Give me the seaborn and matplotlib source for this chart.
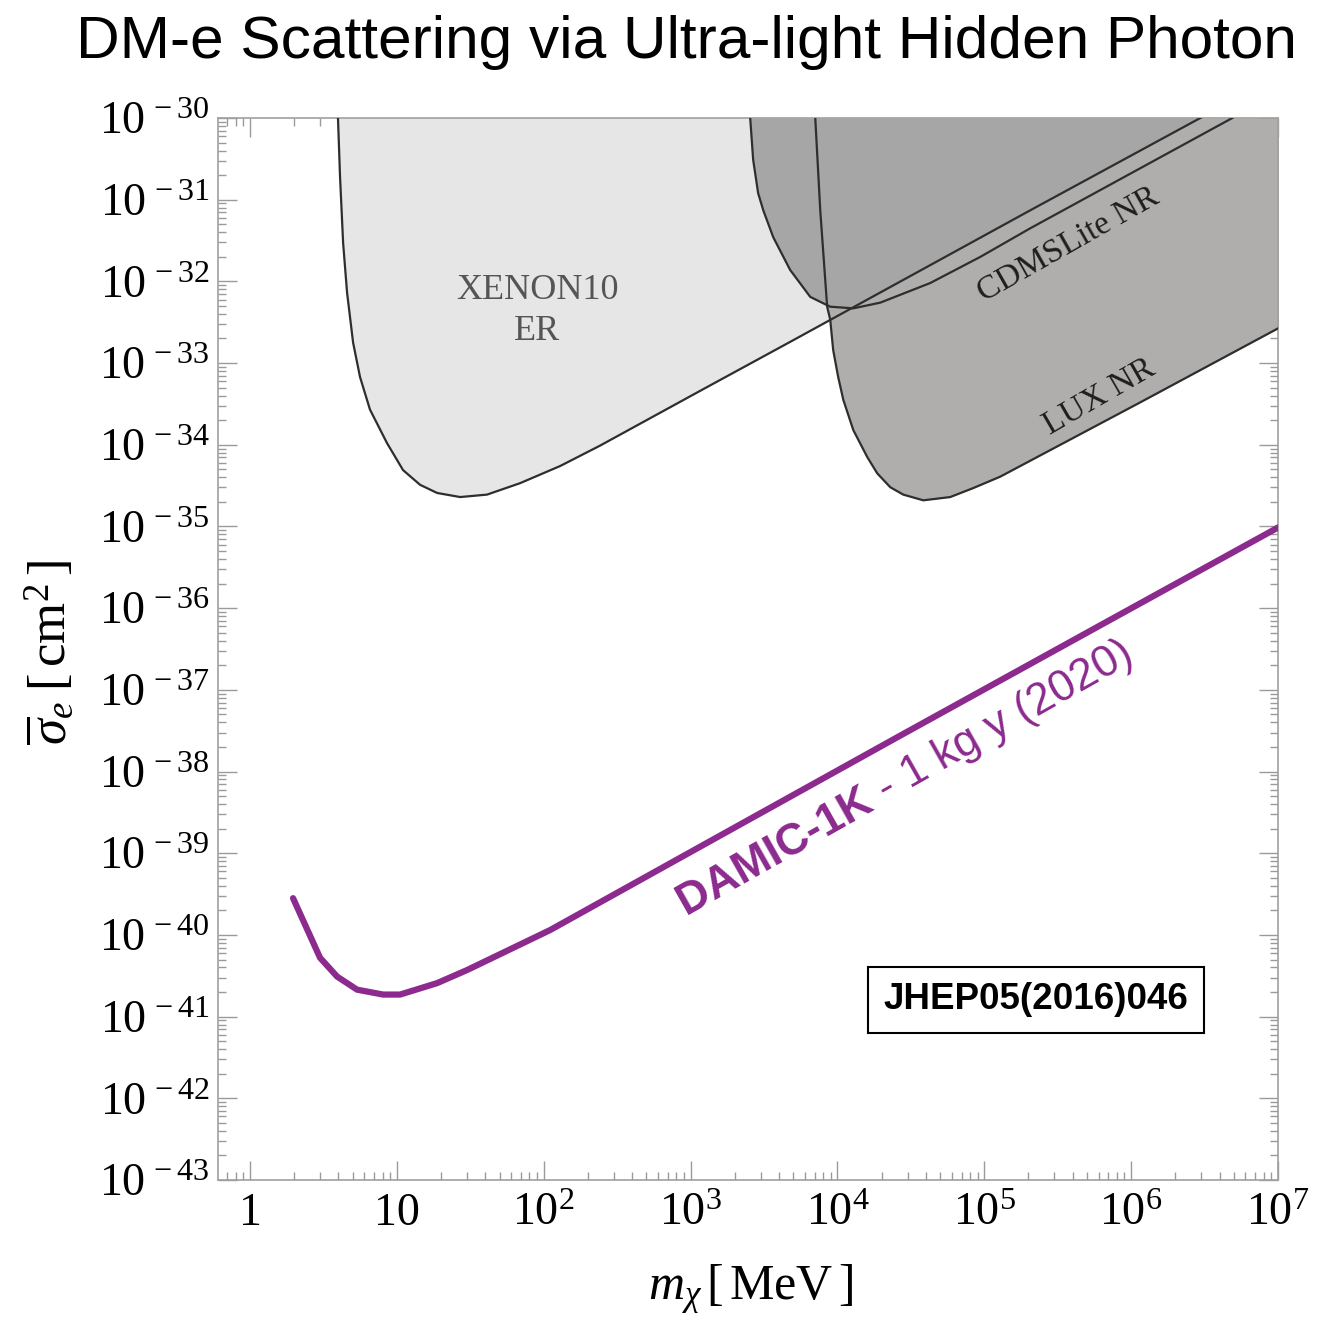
import matplotlib
matplotlib.use("Agg")
import matplotlib.pyplot as plt
import numpy as np
import seaborn as sns
from matplotlib.ticker import LogLocator, NullFormatter

# values, as log10(m / MeV) and log10(sigma / cm^2)
xenon_logm = [0.597, 0.599, 0.613, 0.634, 0.661, 0.702, 0.749, 0.817, 0.933, 1.042, 1.158, 1.274, 1.431,
              1.614, 1.839, 2.112, 2.384, 3.065, 3.699, 5.313, 6.471, 7.02]
xenon_logs = [-29.0, -30.0, -30.72, -31.53, -32.14, -32.75, -33.17, -33.57, -33.98, -34.31, -34.49, -34.59, -34.64,
              -34.61, -34.47, -34.26, -34.01, -33.34, -32.72, -31.13, -30.0, -29.46]

cdms_logm = [3.400, 3.406, 3.426, 3.460, 3.495, 3.563, 3.678, 3.815, 3.951, 4.108, 4.292, 4.632, 4.973, 5.313, 6.689, 7.10]
cdms_logs = [-29.0, -30.0, -30.51, -30.92, -31.13, -31.46, -31.86, -32.19, -32.31, -32.33, -32.26, -32.02, -31.70,
             -31.35, -30.0, -29.45]

lux_logm = [3.845, 3.849, 3.883, 3.930, 3.951, 3.971, 4.005, 4.040, 4.108, 4.203, 4.271, 4.360, 4.448, 4.585,
            4.768, 4.925, 5.109, 6.063, 7.016]
lux_logs = [-29.0, -30.0, -31.13, -32.31, -32.47, -32.84, -33.17, -33.45, -33.82, -34.15, -34.35, -34.52, -34.61,
            -34.68, -34.64, -34.53, -34.39, -33.48, -32.56]

damic_logm = [0.293, 0.477, 0.593, 0.729, 0.906, 1.022, 1.274, 1.478, 2.044, 3.065, 4.428, 5.790, 7.003]
damic_logs = [-39.55, -40.28, -40.51, -40.67, -40.73, -40.73, -40.59, -40.43, -39.94, -38.92, -37.56, -36.21, -35.01]

x_ticks = [1, 10, 1e2, 1e3, 1e4, 1e5, 1e6, 1e7]
x_labels = ["1", "10"] + [rf"$10^{{{k}}}$" for k in range(2, 8)]
y_exps = list(range(-43, -29))
y_labels = [rf"$10^{{\,{k}}}$" for k in y_exps]

LIGHT = "#e6e6e6"
MID = "#b0adad"
DARK = "#a6a6a6"
EDGE = "#2e2e2e"
PURPLE = "#8c2a8e"

sns.set_theme(style="ticks")
plt.rcParams.update({
    "font.family": ["Liberation Serif", "DejaVu Serif"],
    "mathtext.fontset": "custom",
    "mathtext.rm": "Liberation Serif",
    "mathtext.it": "Liberation Serif:italic",
    "mathtext.bf": "Liberation Serif:bold",
    "text.color": "black",
    "xtick.labelcolor": "black",
    "ytick.labelcolor": "black",
})

fig = plt.figure(figsize=(13.17, 13.25), dpi=100)
ax = fig.add_axes([218 / 1317, 1 - 1180 / 1325, 1060 / 1317, 1062 / 1325])
ax.set_xscale("log")
ax.set_yscale("log")

top = 1e-30
xen_m, xen_s = 10 ** np.array(xenon_logm), 10 ** np.array(xenon_logs)
cdms_m, cdms_s = 10 ** np.array(cdms_logm), 10 ** np.array(cdms_logs)
lux_m, lux_s = 10 ** np.array(lux_logm), 10 ** np.array(lux_logs)
dam_m, dam_s = 10 ** np.array(damic_logm), 10 ** np.array(damic_logs)

# excluded regions: fill from each bound up to the top of the frame
xen_fill = ax.fill_between(xen_m, np.minimum(xen_s, top), top, color=LIGHT, lw=0, zorder=1)
ax.fill_between(lux_m, np.minimum(lux_s, top), top, color=MID, lw=0, zorder=2)
overlap = ax.fill_between(cdms_m, np.minimum(cdms_s, top), top, color=DARK, lw=0, zorder=3)
overlap.set_clip_path(xen_fill.get_paths()[0], ax.transData)

for m, s in [(xen_m, xen_s), (cdms_m, cdms_s), (lux_m, lux_s)]:
    sns.lineplot(x=m, y=s, ax=ax, color=EDGE, lw=1.6, estimator=None, sort=False, zorder=4)
sns.lineplot(x=dam_m, y=dam_s, ax=ax, color=PURPLE, lw=4.5, estimator=None, sort=False, zorder=5)

ax.set_xlim(10 ** -0.218, 1e7)
ax.set_ylim(1e-43, 1e-30)
ax.set_xticks(x_ticks, labels=x_labels)
ax.set_yticks([10.0 ** k for k in y_exps], labels=y_labels)
ax.xaxis.set_minor_locator(LogLocator(base=10, subs=np.arange(2, 10), numticks=100))
ax.yaxis.set_minor_locator(LogLocator(base=10, subs=np.arange(2, 10), numticks=100))
ax.xaxis.set_minor_formatter(NullFormatter())
ax.yaxis.set_minor_formatter(NullFormatter())
ax.tick_params(which="both", direction="in", top=True, right=True, color="#9a9a9a", width=1.0, labelsize=33)
ax.tick_params(which="major", length=14)
ax.tick_params(which="minor", length=5.5)
ax.tick_params(axis="x", pad=9)
ax.tick_params(axis="y", pad=6)
for sp in ax.spines.values():
    sp.set_color("#a0a0a0")
    sp.set_linewidth(1.2)

# region labels
ax.text(10 ** 1.955, 10 ** -32.36, "XENON10\nER", ha="center", va="center", fontsize=26,
        color="#555555", linespacing=1.3, zorder=6)
ax.text(10 ** 5.572, 10 ** -31.554, "CDMSLite NR", ha="center", va="center", fontsize=24,
        color="#1e1e1e", rotation=29.5, rotation_mode="anchor", zorder=6)
ax.text(10 ** 5.783, 10 ** -33.415, "LUX NR", ha="center", va="center", fontsize=24,
        color="#1e1e1e", rotation=30, rotation_mode="anchor", zorder=6)

sans = ["Liberation Sans", "DejaVu Sans"]
ax.text(10 ** 4.257, 10 ** -38.446, "DAMIC-1K", ha="right", va="baseline", fontsize=32,
        fontweight="bold", color=PURPLE, family=sans, rotation=29.5, rotation_mode="anchor", zorder=6)
ax.text(10 ** 4.257, 10 ** -38.446, " - 1 kg y (2020)", ha="left", va="baseline", fontsize=32,
        color=PURPLE, family=sans, rotation=29.5, rotation_mode="anchor", zorder=6)

ax.text(0.772, 0.1695, "JHEP05(2016)046", transform=ax.transAxes, ha="center", va="center",
        fontsize=26.5, fontweight="bold", family=sans, zorder=7,
        bbox=dict(boxstyle="square,pad=0.42", fc="white", ec="black", lw=1.5))

fig.text(686 / 1317, 1 - 42 / 1325, "DM-e Scattering via Ultra-light Hidden Photon",
         ha="center", va="center", fontsize=43.5, family=sans)
fig.text(750 / 1317, 1 - 1290 / 1325, r"$m_\chi\,[\,\mathrm{MeV}\,]$", ha="center", va="center", fontsize=36)
fig.text(50 / 1317, 1 - 652 / 1325, r"$\overline{\sigma}_e\;[\,\mathrm{cm}^2\,]$", ha="center", va="center",
         rotation=90, fontsize=38)

fig.savefig("out.png", dpi=100)
plt.close(fig)
